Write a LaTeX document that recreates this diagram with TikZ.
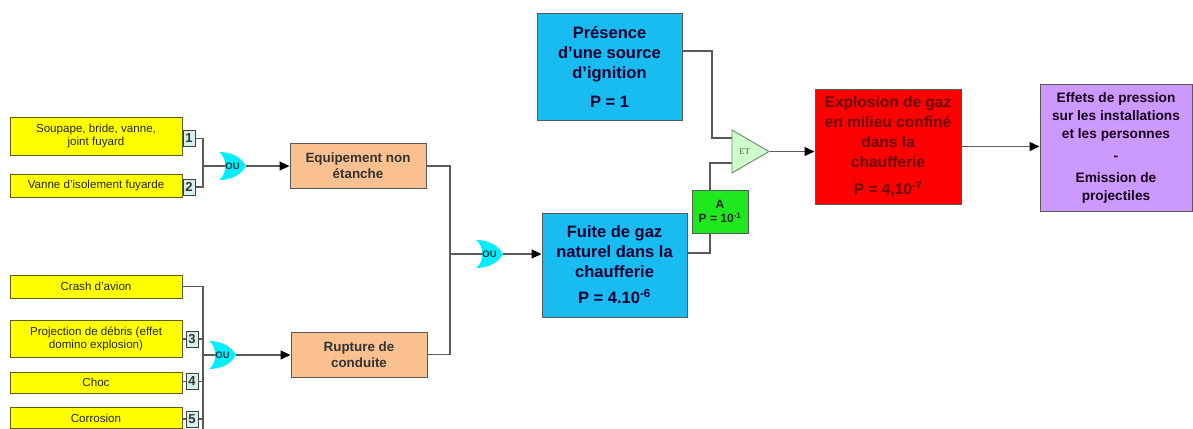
\documentclass[tikz,border=0pt]{standalone}
\usepackage{fontspec}
\setmainfont{Liberation Sans}
\newfontfamily\etfont{Liberation Serif}
\usetikzlibrary{arrows.meta,shapes.geometric,backgrounds}
\definecolor{evyellow}{RGB}{255,255,0}
\definecolor{evborder}{RGB}{95,95,20}
\definecolor{numfill}{RGB}{214,238,238}
\definecolor{peach}{RGB}{250,192,143}
\definecolor{skyfill}{RGB}{24,188,240}
\definecolor{agreen}{RGB}{30,232,30}
\definecolor{redfill}{RGB}{255,0,0}
\definecolor{redtext}{RGB}{105,0,0}
\definecolor{lavender}{RGB}{204,153,255}
\definecolor{gatecyan}{RGB}{0,238,255}
\definecolor{etfill}{RGB}{204,255,204}
\definecolor{etborder}{RGB}{110,135,110}
\definecolor{wire}{RGB}{90,90,90}
\tikzset{
  evt/.style={draw=evborder, line width=1pt, fill=evyellow, minimum width=172pt, inner sep=1pt, align=center, text=black!85, font=\fontsize{11.6}{13}\selectfont},
  numbox/.style={draw=black!75, line width=0.9pt, fill=numfill, minimum width=12pt, minimum height=16pt, inner sep=0pt, font=\fontsize{13}{13}\selectfont\bfseries, text=black!80},
  midbox/.style={draw=black!65, line width=1pt, fill=peach, minimum width=136pt, minimum height=45pt, align=center, text=black!80, font=\fontsize{13.4}{16}\selectfont\bfseries},
  bigbox/.style={draw=black!65, line width=1pt, align=center, font=\fontsize{16.5}{20}\selectfont\bfseries},
  ougate/.style={minimum width=27pt, minimum height=28pt, inner sep=0pt, xshift=1pt, text=black!55!teal, font=\fontsize{9.5}{9.5}\selectfont\bfseries},
  wireline/.style={draw=wire, line width=1.1pt},
  arr/.style={wireline, -{Triangle[length=10pt,width=9pt,color=black]}}
}
\begin{document}
\begin{tikzpicture}[x=1pt,y=-1pt]
\useasboundingbox (0,0) rectangle (1193,428);
% basic events
\node[evt, minimum height=38pt] (soup) at (96,136) {Soupape, bride, vanne,\\joint fuyard};
\node[evt, minimum height=23pt] (vanne) at (96,185.5) {Vanne d'isolement fuyarde};
\node[numbox] (n1) at (189,138.5) {1};
\node[numbox] (n2) at (189,187) {2};
\node[evt, minimum height=23pt] (crash) at (96,286.5) {Crash d'avion};
\node[evt, minimum height=37pt] (proj) at (96,338.5) {Projection de débris (effet\\domino explosion)};
\node[evt, minimum height=21pt] (choc) at (96,382.5) {Choc};
\node[evt, minimum height=21pt] (corr) at (96,418) {Corrosion};
\node[numbox] (n3) at (192,339) {3};
\node[numbox] (n4) at (192,381.5) {4};
\node[numbox] (n5) at (192,419) {5};
% gates
\node[ougate] (ou1) at (231.5,166) {OU};
\node[ougate] (ou2) at (221.5,355) {OU};
\node[ougate] (ou3) at (488.5,254) {OU};
\node[isosceles triangle, isosceles triangle stretches, draw=etborder, line width=0.9pt, fill=etfill, minimum width=43pt, minimum height=37pt, inner sep=0pt, text=black!60, font=\etfont\fontsize{9}{9}\selectfont] (et) at (744.5,151.5) {ET};
% intermediate events
\node[midbox] (equip) at (358,166) {Equipement non\\étanche};
\node[midbox] (rupt) at (359,354.5) {Rupture de\\conduite};
\node[bigbox, fill=skyfill, text=black!80!blue, minimum width=145pt, minimum height=104pt] (fuite) at (614.5,265) {Fuite de gaz\\naturel dans la\\chaufferie\\[6pt]P = 4.10\textsuperscript{-6}};
\node[bigbox, fill=skyfill, text=black!80!blue, minimum width=145pt, minimum height=106pt] (pres) at (609.5,67) {Présence\\d'une source\\d'ignition\\[9pt]P = 1};
\node[draw=black!65, line width=1pt, fill=agreen, minimum width=56pt, minimum height=43pt, inner sep=1pt, align=center, text=black!85, font=\fontsize{12}{14}\selectfont\bfseries] (cond) at (720,211.5) {A\\P = 10\textsuperscript{-1}};
\node[bigbox, fill=redfill, text=redtext, minimum width=146pt, minimum height=115pt, font=\fontsize{15.5}{20}\selectfont\bfseries] (expl) at (888,146.5) {Explosion de gaz\\en milieu confiné\\dans la\\chaufferie\\[7pt]P = 4,10\textsuperscript{-7}};
\node[bigbox, fill=lavender, text=black!80!violet, minimum width=152pt, minimum height=127pt, font=\fontsize{13.7}{18}\selectfont\bfseries] (eff) at (1116,148) {Effets de pression\\sur les installations\\et les personnes\\[4pt]-\\[4pt]Emission de\\projectiles};
% junctions
\coordinate (busA) at (203,166);
\coordinate (busB) at (203,355);
\coordinate (busM) at (450,254);
\begin{scope}[on background layer]
\draw[wireline] (soup.east |- n1) -- (n1.west);
\draw[wireline] (vanne.east |- n2) -- (n2.west);
\draw[wireline] (n1.east) -| (busA |- n1) -- (busA |- n2) -- (n2.east);
\draw[wireline] (busA) -- (ou1.center);
\draw[wireline] (crash.east) -| (busB |- corr.south);
\draw[wireline] (proj.east |- n3) -- (n3.west);
\draw[wireline] (choc.east |- n4) -- (n4.west);
\draw[wireline] (corr.east |- n5) -- (n5.west);
\draw[wireline] (n3.east) -- (busB |- n3);
\draw[wireline] (n4.east) -- (busB |- n4);
\draw[wireline] (n5.east) -- (busB |- n5);
\draw[wireline] (busB) -- (ou2.center);
\draw[wireline] (equip.east) -| (busM) |- (rupt.east);
\draw[wireline] (busM) -- (ou3.center);
\draw[wireline] (fuite.east |- 0,253) -| (cond.south -| 710,0);
\draw[wireline] (cond.north -| 710,0) |- (et.west |- 0,163);
\draw[wireline] (pres.east |- 0,51) -| (712,138) -- (et.west |- 0,138);
% gate bodies
\foreach \g in {ou1,ou2,ou3}
  \fill[gatecyan, shift={(\g.center)}] (-13.5,-14) .. controls (-5,-8) and (-5,8) .. (-13.5,14) .. controls (0,14) and (9,8) .. (13.5,0) .. controls (9,-8) and (0,-14) .. cycle;
\end{scope}
\draw[arr] (ou1.east) -- (ou1.east -| equip.west);
\draw[arr] (ou2.east) -- (ou2.east -| rupt.west);
\draw[arr] (ou3.east) -- (ou3.east -| fuite.west);
\draw[arr] (et.apex) -- (expl.west |- et.apex);
\draw[arr] (expl.east) -- (eff.west |- expl.east);
\end{tikzpicture}
\end{document}
